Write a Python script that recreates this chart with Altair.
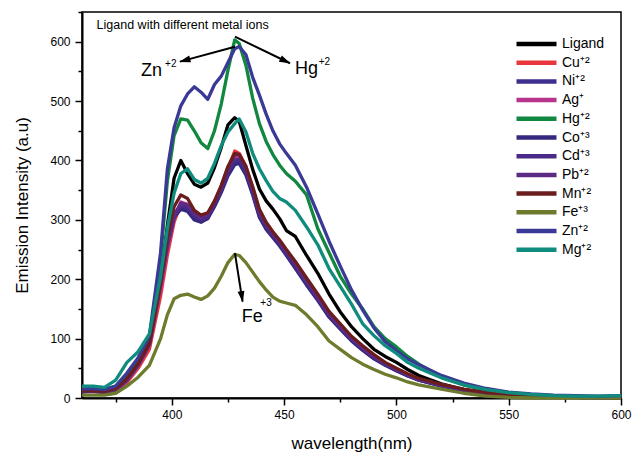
import altair as alt
import pandas as pd

wavelength = [360, 365, 370, 375, 380, 385, 390, 395, 398, 401, 404, 407, 410, 413, 416, 419,
              422, 425, 428, 430, 433, 436, 439, 442, 445, 448, 451, 455, 460, 465, 470, 475,
              480, 485, 490, 495, 500, 505, 510, 520, 530, 540, 550, 560, 570, 580, 590, 600]

ligand = [14, 13, 12, 16, 32, 60, 98, 200, 290, 370, 400, 378, 360, 355, 362, 388,
          422, 460, 472, 466, 425, 385, 352, 332, 318, 302, 282, 272, 240, 210, 175, 145,
          120, 100, 82, 70, 60, 48, 38, 24, 14, 8, 4, 2, 1, 1, 0, 1]
cu = [12, 12, 10, 13, 26, 50, 82, 172, 240, 296, 326, 324, 306, 298, 302, 326,
      352, 386, 416, 412, 390, 352, 312, 290, 274, 258, 244, 224, 196, 168, 140, 118,
      98, 82, 68, 57, 47, 38, 31, 21, 14, 8, 4, 2, 1, 1, 0, 0]
ni = [10, 11, 9, 14, 30, 56, 92, 192, 258, 306, 322, 318, 304, 300, 306, 326,
      350, 378, 398, 400, 380, 345, 306, 286, 272, 258, 244, 222, 192, 166, 138, 117,
      97, 82, 67, 56, 46, 38, 30, 21, 13, 8, 4, 2, 1, 1, 0, 0]
ag = [11, 12, 10, 14, 29, 54, 88, 186, 252, 302, 330, 326, 310, 302, 308, 330,
      354, 382, 405, 404, 384, 348, 308, 290, 276, 262, 246, 226, 196, 170, 141, 120,
      100, 84, 69, 57, 48, 39, 31, 22, 14, 8, 4, 2, 1, 1, 0, 0]
hg = [15, 15, 14, 20, 40, 65, 100, 235, 365, 442, 470, 468, 450, 430, 420, 450,
      495, 552, 603, 597, 560, 505, 462, 432, 410, 392, 378, 365, 342, 285, 245, 205,
      175, 150, 120, 100, 86, 70, 57, 36, 22, 13, 8, 5, 3, 2, 1, 2]
co = [12, 12, 11, 15, 31, 57, 93, 194, 260, 304, 318, 314, 300, 296, 302, 322,
      346, 374, 393, 395, 375, 342, 304, 284, 270, 256, 240, 218, 190, 164, 136, 116,
      96, 80, 66, 55, 46, 37, 30, 20, 13, 8, 4, 2, 1, 1, 0, 0]
cd = [11, 11, 10, 14, 30, 55, 90, 190, 256, 304, 324, 320, 306, 300, 305, 326,
      350, 380, 400, 402, 382, 346, 308, 288, 273, 259, 243, 222, 193, 167, 139, 118,
      98, 82, 68, 56, 47, 38, 30, 21, 13, 8, 4, 2, 1, 1, 0, 0]
pb = [12, 12, 10, 14, 30, 55, 91, 192, 258, 308, 328, 325, 310, 303, 309, 330,
      356, 388, 410, 410, 388, 352, 312, 292, 277, 262, 247, 226, 197, 170, 141, 120,
      100, 84, 70, 58, 48, 39, 31, 22, 14, 8, 4, 2, 1, 1, 0, 0]
mn = [12, 12, 11, 16, 33, 58, 92, 196, 270, 322, 342, 336, 316, 308, 312, 332,
      358, 390, 412, 410, 390, 356, 318, 296, 280, 266, 250, 230, 202, 175, 146, 125,
      104, 88, 73, 60, 50, 41, 33, 23, 15, 9, 5, 3, 2, 1, 1, 0]
fe = [5, 5, 5, 8, 20, 35, 55, 100, 140, 167, 173, 175, 170, 166, 172, 185,
      205, 228, 242, 240, 228, 212, 196, 182, 170, 163, 160, 156, 140, 120, 96, 82,
      68, 57, 48, 40, 34, 27, 22, 15, 8, 3, 1, 0, 0, 0, 0, 0]
zn = [15, 16, 14, 20, 42, 68, 105, 245, 385, 455, 492, 512, 524, 515, 503, 528,
      542, 565, 588, 592, 578, 540, 510, 478, 450, 428, 412, 392, 355, 310, 264, 222,
      182, 148, 118, 95, 80, 66, 56, 38, 25, 16, 10, 7, 5, 4, 3, 4]
mg = [20, 20, 18, 30, 60, 78, 108, 205, 285, 345, 378, 386, 368, 362, 370, 395,
      425, 448, 462, 470, 448, 412, 386, 366, 348, 336, 330, 316, 288, 258, 218, 188,
      158, 125, 105, 88, 75, 60, 50, 34, 22, 14, 9, 6, 4, 3, 3, 4]

series_names = ["Ligand", "Cu⁺²", "Ni⁺²", "Ag⁺", "Hg⁺²", "Co⁺³", "Cd⁺³", "Pb⁺²",
                "Mn⁺²", "Fe⁺³", "Zn⁺²", "Mg⁺²"]
series_colors = ["#000000", "#e8373c", "#3d2f8d", "#b8338a", "#11873f", "#34297e",
                 "#4a2a88", "#5b2b86", "#6b1d1e", "#6e7a2c", "#3a3995", "#0f8c7e"]
series_values = [ligand, cu, ni, ag, hg, co, cd, pb, mn, fe, zn, mg]

# annotation texts (data coordinates)
note_text = ["Ligand with different metal ions", "Zn", "+2", "Hg", "+2", "Fe", "+3"]
note_x = [366.5, 386.3, 397.0, 454.8, 465.4, 431.1, 439.4]
note_y = [628, 551, 562, 554, 566, 137, 160]
note_size = [12.5, 18, 10, 18, 10, 18, 10]

# arrows: start -> tip (data coordinates)
arrow_x1 = [428.1, 428.1, 428.1]
arrow_y1 = [591.6, 608.5, 243.7]
arrow_x2 = [403.6, 452.6, 431.5]
arrow_y2 = [566.4, 563.7, 162.2]
head_x = [405.7, 450.6, 431.2]
head_y = [568.5, 567.4, 170.4]
head_angle = [254.7, 115.8, 171.0]

rows = []
for name, vals in zip(series_names, series_values):
    for w, v in zip(wavelength, vals):
        rows.append({"wavelength": w, "intensity": v, "series": name})
df = pd.DataFrame(rows)

notes = pd.DataFrame({"x": note_x, "y": note_y, "text": note_text, "size": note_size})
arrows = pd.DataFrame({"x": arrow_x1, "y": arrow_y1, "x2": arrow_x2, "y2": arrow_y2})
heads = pd.DataFrame({"x": head_x, "y": head_y, "angle": head_angle})

FONT = "Liberation Sans"
xscale = alt.Scale(domain=[360, 600], nice=False, zero=False)
yscale = alt.Scale(domain=[0, 650], nice=False, zero=True)

xaxis = alt.Axis(
    values=[375, 400, 425, 450, 475, 500, 525, 550, 575, 600],
    labelExpr="datum.value % 50 === 0 ? datum.label : ''",
    tickSize={"condition": {"test": "datum.value % 50 === 0", "value": 7}, "value": 4},
    labelFlush=False, labelOverlap=False, labelPadding=4,
    titleFontSize=17, titleX=269.5, titleY=45, titleBaseline="middle", titleAlign="center",
)
yaxis = alt.Axis(
    values=list(range(0, 651, 50)),
    labelExpr="datum.value % 100 === 0 ? datum.label : ''",
    tickSize={"condition": {"test": "datum.value % 100 === 0", "value": 7}, "value": 4},
    labelFlush=False, labelOverlap=False, labelPadding=5,
    titleFontSize=17, titleX=-60, titleY=193, titleBaseline="middle", titleAlign="center",
    titleAngle=270,
)

XT = "wavelength(nm)"
YT = "Emission Intensity (a.u)"

lines = alt.Chart(df).mark_line(strokeWidth=3.3, strokeJoin="round").encode(
    x=alt.X("wavelength:Q", scale=xscale, axis=xaxis, title=XT),
    y=alt.Y("intensity:Q", scale=yscale, axis=yaxis, title=YT),
    color=alt.Color(
        "series:N",
        scale=alt.Scale(domain=series_names, range=series_colors),
        sort=series_names,
        legend=alt.Legend(
            orient="none", legendX=432, legendY=25, title=None,
            symbolType="stroke", symbolSize=1600, symbolStrokeWidth=4.5,
            clipHeight=14,
            labelFont=FONT, labelFontSize=14, labelColor="black",
            rowPadding=4.7, labelOffset=3, padding=0,
        ),
    ),
)

text_layer = alt.Chart(notes).mark_text(align="left", baseline="middle", font=FONT,
                                        color="black").encode(
    x=alt.X("x:Q", scale=xscale, axis=xaxis, title=XT),
    y=alt.Y("y:Q", scale=yscale, axis=yaxis, title=YT),
    text="text:N",
    size=alt.Size("size:Q", scale=None, legend=None),
)

arrow_layer = alt.Chart(arrows).mark_rule(color="black", strokeWidth=2).encode(
    x=alt.X("x:Q", scale=xscale, axis=xaxis, title=XT),
    y=alt.Y("y:Q", scale=yscale, axis=yaxis, title=YT),
    x2="x2:Q",
    y2="y2:Q",
)

head_layer = alt.Chart(heads).mark_point(
    shape="M0,-1L0.6,1L-0.6,1Z", filled=True, color="black", opacity=1, size=130,
).encode(
    x=alt.X("x:Q", scale=xscale, axis=xaxis, title=XT),
    y=alt.Y("y:Q", scale=yscale, axis=yaxis, title=YT),
    angle=alt.Angle("angle:Q", scale=None),
)

chart = alt.layer(lines, arrow_layer, head_layer, text_layer).properties(
    width=539, height=386,
    padding={"left": 82, "top": 12, "right": 14, "bottom": 55},
    autosize=alt.AutoSizeParams(type="none"),
    background="white",
).configure_view(
    stroke="black", strokeWidth=1.5,
).configure_axis(
    labelFont=FONT, labelFontSize=12, labelColor="black",
    titleFont=FONT, titleFontWeight="normal", titleColor="black",
    domainColor="black", domainWidth=2, tickColor="black", tickWidth=1.5,
    grid=False,
)

chart.save("out.html", embed_options={"renderer": "svg", "actions": False})
